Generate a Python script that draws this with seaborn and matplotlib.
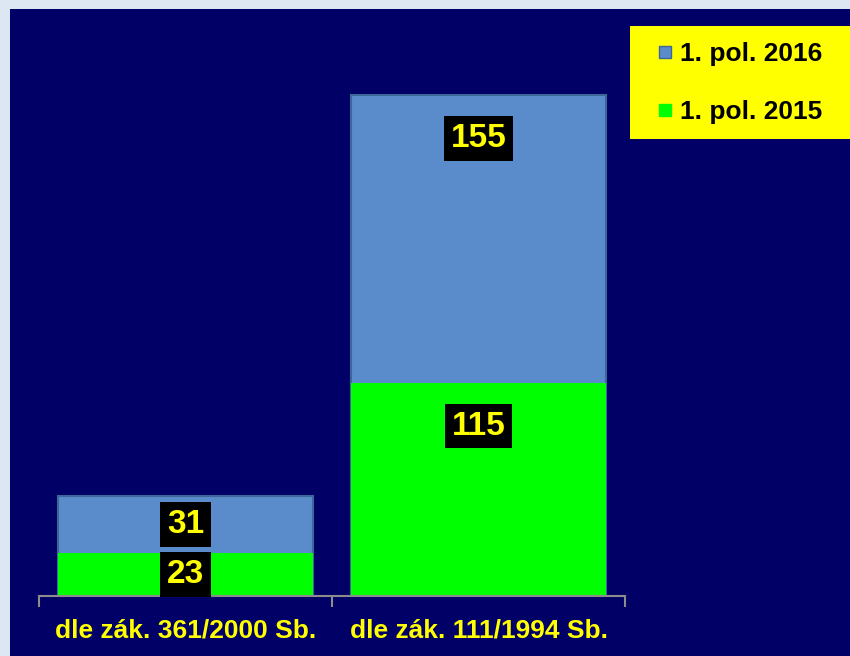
import numpy as np
import pandas as pd
import seaborn as sns
import matplotlib.pyplot as plt
from matplotlib.patches import Rectangle
from matplotlib.lines import Line2D

categories = ["dle zák. 361/2000 Sb.", "dle zák. 111/1994 Sb."]
pol_2015 = [23, 115]
pol_2016 = [31, 155]
series_names = ["1. pol. 2016", "1. pol. 2015"]

navy = "#000066"
blue = "#5a8bcb"
green = "#00ff00"
yellow = "#ffff00"

sns.set_style("white")
plt.rcParams["font.family"] = ["Liberation Sans", "DejaVu Sans"]
plt.rcParams["font.weight"] = "bold"

df = pd.DataFrame({"cat": categories, "p15": pol_2015, "p16": pol_2016})
df["total"] = df["p15"] + df["p16"]

fig = plt.figure(figsize=(8.5, 6.56), dpi=100)
fig.patch.set_facecolor("#dde7f3")
# navy panel
fig.patches.append(Rectangle((10/850, 0), 1 - 10/850, 1 - 9/656, transform=fig.transFigure,
                             facecolor=navy, edgecolor="none", zorder=-3))
# yellow legend box
fig.patches.append(Rectangle((630/850, 1 - 139/656), 220/850, 113/656, transform=fig.transFigure,
                             facecolor=yellow, edgecolor="none", zorder=-2))

ax = fig.add_axes([39/850, 1 - 596/656, 586/850, 566/656])
ax.set_facecolor("none")

sns.barplot(data=df, x="cat", y="total", color=blue, width=0.87, saturation=1,
            edgecolor="#3d6699", linewidth=1.5, ax=ax)
sns.barplot(data=df, x="cat", y="p15", color=green, width=0.87, saturation=1,
            linewidth=0, ax=ax)

ax.set_xlim(-0.5, 1.5)
ax.set_ylim(0, 305)
ax.set_xlabel("")
ax.set_ylabel("")
ax.set_yticks([])
for s in ["top", "right", "left"]:
    ax.spines[s].set_visible(False)
ax.spines["bottom"].set_color("#8c8c8c")
ax.spines["bottom"].set_linewidth(1.5)
ax.set_xticks(range(len(categories)))
ax.set_xticklabels(categories, color=yellow, fontsize=19, fontweight="bold")
ax.tick_params(axis="x", which="major", length=0, pad=16)
ax.set_xticks([-0.5, 0.5, 1.5], minor=True)
ax.tick_params(axis="x", which="minor", bottom=True, direction="out",
               length=8, width=1.5, color="#8c8c8c")

def place(top, val):
    return top - min(val / 2, 23.5)

for i in range(len(categories)):
    segs = [(pol_2015[i], pol_2015[i]), (pol_2015[i] + pol_2016[i], pol_2016[i])]
    for top, val in segs:
        ax.text(i, place(top, val), str(val), ha="center", va="center", color=yellow,
                fontsize=24, fontweight="bold", zorder=5,
                bbox=dict(facecolor="black", edgecolor="none", boxstyle="square,pad=0.2"))

handles = [Line2D([], [], marker="s", linestyle="none", markersize=9,
                  markerfacecolor=blue, markeredgecolor="#3d6699"),
           Line2D([], [], marker="s", linestyle="none", markersize=9,
                  markerfacecolor=green, markeredgecolor=green)]
fig.legend(handles, series_names, loc="upper left", bbox_to_anchor=(631/850, 1 - 18/656),
           frameon=False, handlelength=0.8, handletextpad=0.15, labelspacing=1.3,
           labelcolor="black", prop=dict(size=19, weight="bold"))

fig.savefig("out.png", dpi=100, facecolor=fig.get_facecolor())
